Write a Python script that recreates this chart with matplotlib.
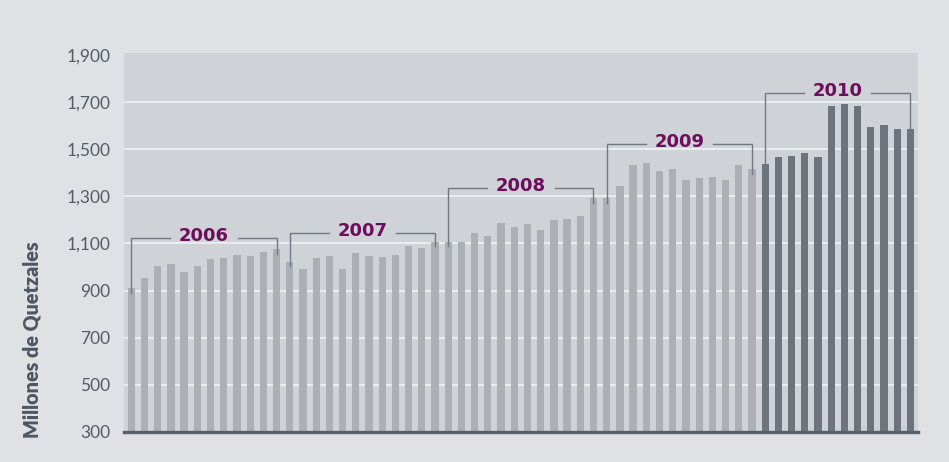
import numpy as np
import matplotlib.pyplot as plt

# monthly values, millones de quetzales
values_2006 = [910, 952, 1004, 1012, 980, 1004, 1033, 1037, 1051, 1048, 1063, 1075]
values_2007 = [1023, 990, 1037, 1048, 992, 1058, 1048, 1043, 1051, 1089, 1080, 1108]
values_2008 = [1108, 1108, 1146, 1132, 1188, 1171, 1183, 1157, 1200, 1204, 1215, 1292]
values_2009 = [1292, 1344, 1433, 1440, 1408, 1415, 1370, 1376, 1381, 1370, 1433, 1415]
values_2010 = [1437, 1467, 1473, 1485, 1467, 1685, 1692, 1685, 1596, 1603, 1588, 1588]

years = ["2006", "2007", "2008", "2009", "2010"]
bracket_levels = [1125, 1146, 1334, 1522, 1740]
y_ticks = [300, 500, 700, 900, 1100, 1300, 1500, 1700, 1900]
grid_vals = [500, 700, 900, 1100, 1300, 1500, 1700]

all_years = [values_2006, values_2007, values_2008, values_2009, values_2010]
values = np.concatenate(all_years)
x = np.arange(len(values))

light_bar = '#acb0b6'
dark_bar = '#6c747d'
purple = '#6d0d5c'
bracket_col = '#6f7883'

fig = plt.figure(figsize=(9.49, 4.62), dpi=100, facecolor='#dfe1e4')
ax = fig.add_axes([0.1307, 0.065, 0.967 - 0.1307, 0.885 - 0.065])
ax.set_facecolor('#cfd2d6')

for g in grid_vals:
    ax.axhline(g, color='#eef0f2', lw=1.3, zorder=1)

colors = [light_bar] * 48 + [dark_bar] * 12
ax.bar(x, values - 300, bottom=300, width=0.55, color=colors, zorder=2)

# year brackets
half_gap = 2.55
for i, (yr, lvl) in enumerate(zip(years, bracket_levels)):
    first = i * 12
    last = first + 11
    mid = (first + last) / 2
    ax.plot([first, first, mid - half_gap], [values[first] - 20, lvl, lvl],
            color=bracket_col, lw=1.0, zorder=3, solid_joinstyle='miter')
    ax.plot([mid + half_gap, last, last], [lvl, lvl, values[last] - 20],
            color=bracket_col, lw=1.0, zorder=3, solid_joinstyle='miter')
    ax.text(mid, lvl + 8, yr, ha='center', va='center', color=purple,
            fontsize=13, fontweight='bold', family='DejaVu Sans', zorder=4)

ax.set_xlim(-0.55, 59.55)
ax.set_ylim(300, 1908)
ax.set_xticks([])
ax.set_yticks(y_ticks)
ax.set_yticklabels([f"{v:,}" for v in y_ticks], family='Lato', fontsize=12.5,
                   color='#535d68')
ax.tick_params(axis='y', length=0, pad=10)

for side in ['top', 'right', 'left']:
    ax.spines[side].set_visible(False)
ax.spines['bottom'].set_color('#56606b')
ax.spines['bottom'].set_linewidth(2.4)
ax.spines['bottom'].set_zorder(5)

fig.text(32 / 949, (462 - 438) / 462, "Millones de Quetzales", rotation=90,
         ha='center', va='bottom', family='Lato', fontweight='heavy',
         fontsize=14.2, color='#4d5763')

fig.savefig('out.png', dpi=100, facecolor=fig.get_facecolor())
